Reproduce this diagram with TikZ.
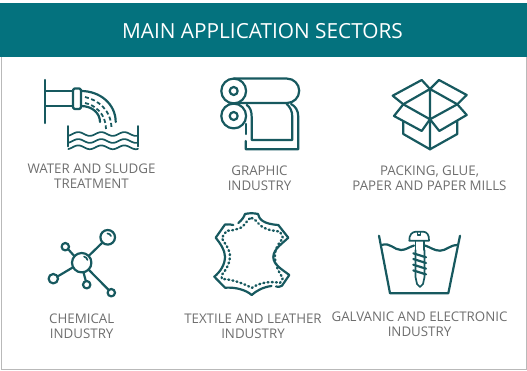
\documentclass[tikz,border=0pt]{standalone}
\usepackage{fontspec}
\setmainfont{Open Sans}
\definecolor{teal1}{HTML}{04727E}
\definecolor{ink}{HTML}{17595F}
\definecolor{lab}{HTML}{6E6E6E}
\tikzset{
 ic/.style={draw=ink,line width=2.2pt,line cap=round,line join=round},
 thin/.style={draw=ink,line width=1.7pt,line cap=round,line join=round},
 dash1/.style={draw=ink,line width=1.8pt,dash pattern=on 4pt off 2.5pt},
 dots1/.style={draw=ink,line width=2.4pt,line cap=round,dash pattern=on 1pt off 3.2pt},
 lbl/.style={text=lab,align=center,font=\fontsize{13.3}{15}\selectfont,inner sep=0pt},
}
\begin{document}
\begin{tikzpicture}[x=1pt,y=-1pt]
\useasboundingbox (0,0) rectangle (527,371);
\draw[draw=gray!55,line width=1pt] (1,57) rectangle (526,369.7);
\fill[teal1] (0,3) rectangle (527,57);
\node[text=white,font=\fontsize{20.8}{24}\selectfont,inner sep=0pt] (title) at (262.5,31.5) {MAIN APPLICATION SECTORS};
% water
\draw[ic] (45.3,80) -- (45.3,123);
\draw[ic] (45.3,91) -- (73,91) (45.3,106) -- (73,106);
\draw[ic,rounded corners=1.5pt] (73,88.5) rectangle (81,109);
\draw[ic] (81,91) .. controls (100,91) and (115.7,104) .. (115.7,122);
\draw[ic] (81,106) .. controls (92,106) and (100,113) .. (100,122);
\draw[dash1] (85,97) .. controls (98,100) and (111.5,110) .. (111.5,129);
\draw[dash1] (85,103) .. controls (95,105) and (106,114) .. (106,129);
\draw[thin] (68.3,126) -- (68.3,146.5) (138,126) -- (138,146.5);
\foreach \yy in {134,141,147.3}{
 \draw[thin] plot[domain=68.3:138,samples=50,smooth] (\x,{\yy-1.9*cos((\x-78.3)/23*360)});
}
\node[lbl] (l1) at (91.5,176.2) {WATER AND SLUDGE\\TREATMENT};
% graphic
\draw[ic] (233.7,91) circle (12.4) (233.7,91) circle (4);
\draw[ic] (233.7,116) circle (12.4) (233.7,116) circle (4);
\draw[ic] (233.7,78.6) -- (287,78.6) arc (-90:90:12.2) -- (238,103);
\draw[ic] (246.7,105) .. controls (250,107) and (251.7,111) .. (251.7,117) -- (251.7,140) -- (292.3,140) -- (292.3,117) .. controls (292.3,111) and (290,107) .. (286.7,104);
\draw[ic] (291,104) .. controls (295,106) and (298.3,110) .. (298.3,117) -- (298.3,149.3) -- (245.7,149.3) -- (245.7,141);
\draw[ic] (245.7,124) -- (245.7,134);
\node[lbl] (l2) at (259.5,178.5) {GRAPHIC\\INDUSTRY};
% box
\draw[ic] (430,89) -- (421.7,80) -- (392.7,95.7) -- (403.3,104.3) -- (430,89) -- (439,80) -- (466.7,95) -- (457.3,104.3) -- (430,89) -- (430,149.3);
\draw[ic] (403.3,104.3) -- (430,119.3) -- (457.3,104.3);
\draw[ic] (403.3,104.3) -- (394,116) -- (421.7,131) -- (430,119.3) -- (439.3,131) -- (466.7,115) -- (457.3,104.3);
\draw[ic] (403.3,121.7) -- (403.3,134) -- (430,149.3) -- (457.3,134) -- (457.3,121);
\node[lbl] (l3) at (429.5,178.5) {PACKING, GLUE,\\PAPER AND PAPER MILLS};
% chemical
\draw[ic] (81.7,262.7) circle (9.7);
\draw[ic] (107.7,237.3) circle (7.3);
\draw[ic] (65.3,246.7) circle (3.7);
\draw[ic] (53.3,278.7) circle (4.7);
\draw[ic] (86.7,284.7) circle (3.7);
\draw[ic] (111.3,292.7) circle (3.7);
\draw[ic] (88.7,255.9) -- (102.5,242.5) (74.5,256.3) -- (68.2,249.2) (73,267.3) -- (57.5,276.5) (83.5,272.3) -- (85.8,281) (88.5,269.5) -- (108.7,290);
\draw[thin] (84,256.5) .. controls (86,257) and (87,258.5) .. (87.5,260);
\draw[thin] (107.5,233.5) .. controls (109,233.5) and (110.5,234.5) .. (111,236);
\node[lbl] (l4) at (81.7,326.2) {CHEMICAL\\INDUSTRY};
% leather
\draw[ic] (238.3,223) .. controls (242,220) and (244,217) .. (245,214) .. controls (249,213) and (254,213) .. (258,214)
 .. controls (259,219) and (263,224) .. (278.3,225) -- (288.3,237.7) .. controls (283,243) and (273.3,249) .. (273.3,257)
 .. controls (273.3,265) and (283,270) .. (289.3,275) -- (282,285.7) .. controls (280,287.2) and (278,287) .. (276,286.5)
 (271.5,286) .. controls (263,287) and (256,291) .. (251.7,295) .. controls (246,290) and (236,287) .. (225,287.7)
 -- (214.3,276.7) .. controls (220,272) and (225,265) .. (225,256.7) .. controls (225,250) and (220,243) .. (215.7,237.7)
 -- (225,224.5) .. controls (228,224) and (231,224.5) .. (233.3,225);
\draw[dots1] (251.7,218) .. controls (254,218) and (256,221) .. (258,223) .. controls (261,227) and (266,229) .. (270,230) -- (280,231.7)
 -- (283,238) .. controls (279,243) and (275,248) .. (275,255) .. controls (274.5,264) and (279,273) .. (283,278)
 -- (280,283) .. controls (272,281) and (260,282) .. (251.7,288) .. controls (245,284) and (232,279) .. (221.7,279)
 -- (221.7,275) .. controls (226,270) and (230,263) .. (230,256.7) .. controls (230,249) and (225,244) .. (221.7,238)
 -- (226.7,230.7) .. controls (232,231) and (238,229) .. (241.7,227.3) .. controls (246,224) and (248,218) .. (251.7,218);
\node[lbl] (l5) at (253,326.2) {TEXTILE AND LEATHER\\INDUSTRY};
% galvanic
\draw[ic] (379,235.7) -- (390,293.3) -- (448.3,293.3) -- (460,235.7);
\draw[ic] (381.7,245) .. controls (390,242) and (394,250) .. (401,250) .. controls (406,250) and (409,247) .. (414,245.5);
\draw[ic] (425,245.5) .. controls (430,247) and (434,250.7) .. (440,250.7) .. controls (446,250.7) and (450,245) .. (457.5,245);
\draw[thin] (409.3,240.7) .. controls (409,235) and (412,231.7) .. (416,231.7) -- (423,231.7) .. controls (427,231.7) and (429.3,235) .. (429,240.7) -- cycle;
\draw[thin] (417.5,232) -- (417.5,235.3) -- (420.5,235.3) -- (420.5,232);
\draw[thin] (415.5,241) -- (415.5,250) (424,241) -- (424,250);
\draw[thin] (415.5,250) -- (415.5,277) -- (417,284) -- (420,287) -- (423,284) -- (424.5,277) -- (424.5,250);
\foreach \yy in {253.3,259,264.7,270.4}{\draw[ic] (413.3,\yy) -- (426,\yy+4);}
\node[lbl] (l6) at (419.5,324.2) {GALVANIC AND ELECTRONIC\\INDUSTRY};
\end{tikzpicture}
\end{document}
